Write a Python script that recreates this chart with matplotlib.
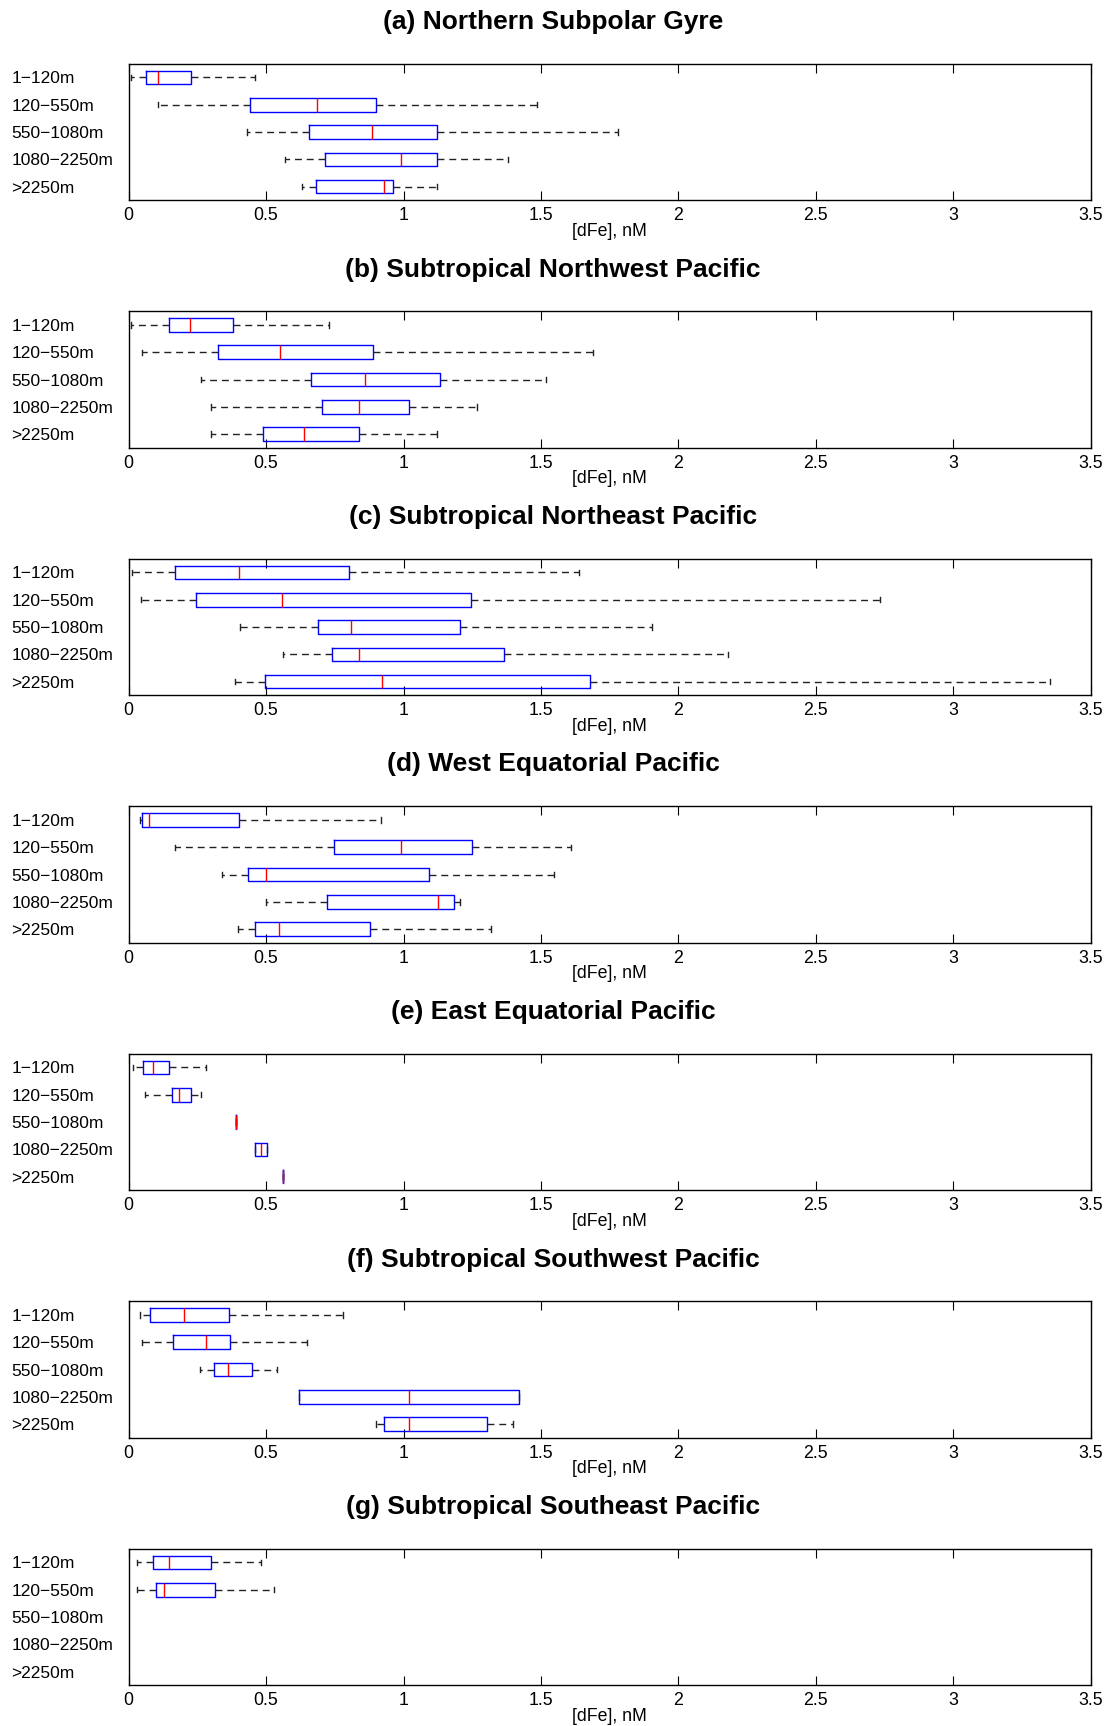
import matplotlib
matplotlib.use('Agg')
import matplotlib.pyplot as plt

plt.rcParams['font.family'] = ['Liberation Sans', 'DejaVu Sans']

depth_labels = ['1\u2212120m', '120\u2212550m', '550\u22121080m', '1080\u22122250m', '>2250m']
titles = ['(a) Northern Subpolar Gyre',
          '(b) Subtropical Northwest Pacific',
          '(c) Subtropical Northeast Pacific',
          '(d) West Equatorial Pacific',
          '(e) East Equatorial Pacific',
          '(f) Subtropical Southwest Pacific',
          '(g) Subtropical Southeast Pacific']

# each row: [whisker low, q1, median, q3, whisker high], one list per depth bin
nspg = [[0.008, 0.063, 0.106, 0.228, 0.46],
        [0.107, 0.44, 0.684, 0.90, 1.485],
        [0.43, 0.656, 0.887, 1.12, 1.78],
        [0.567, 0.713, 0.989, 1.12, 1.379],
        [0.63, 0.681, 0.928, 0.96, 1.12]]
stnwp = [[0.008, 0.145, 0.224, 0.379, 0.73],
         [0.05, 0.326, 0.55, 0.89, 1.688],
         [0.263, 0.662, 0.858, 1.131, 1.518],
         [0.298, 0.703, 0.838, 1.019, 1.269],
         [0.298, 0.489, 0.639, 0.838, 1.12]]
stnep = [[0.013, 0.167, 0.403, 0.803, 1.638],
         [0.044, 0.246, 0.556, 1.246, 2.733],
         [0.405, 0.687, 0.81, 1.205, 1.905],
         [0.562, 0.741, 0.838, 1.367, 2.18],
         [0.387, 0.495, 0.92, 1.677, 3.354]]
wep = [[0.042, 0.049, 0.075, 0.403, 0.919],
       [0.169, 0.748, 0.989, 1.25, 1.608],
       [0.341, 0.433, 0.498, 1.091, 1.546],
       [0.498, 0.72, 1.125, 1.185, 1.207],
       [0.397, 0.459, 0.546, 0.878, 1.319]]
eep = [[0.017, 0.051, 0.089, 0.147, 0.28],
       [0.058, 0.157, 0.184, 0.225, 0.264],
       [0.389, 0.389, 0.389, 0.389, 0.389],
       [0.459, 0.461, 0.48, 0.502, 0.502],
       [0.562, 0.562, 0.562, 0.562, 0.562]]
stswp = [[0.042, 0.078, 0.20, 0.366, 0.78],
         [0.05, 0.162, 0.281, 0.369, 0.65],
         [0.259, 0.309, 0.361, 0.447, 0.539],
         [0.618, 0.618, 1.019, 1.419, 1.419],
         [0.90, 0.929, 1.019, 1.304, 1.398]]
stsep = [[0.029, 0.089, 0.145, 0.298, 0.48],
         [0.029, 0.099, 0.13, 0.313, 0.529]]

regions = [nspg, stnwp, stnep, wep, eep, stswp, stsep]

W, H = 1106, 1726
fig = plt.figure(figsize=(W / 100, H / 100), dpi=100)

ax_left = 128.7 / W
ax_w = (1090.6 - 128.7) / W
ax_h = 136.5 / H
pitch = 247.5

for i, (title, rows) in enumerate(zip(titles, regions)):
    top = 63.8 + i * pitch
    ax = fig.add_axes([ax_left, 1 - (top + 136.5) / H, ax_w, ax_h])

    stats = [dict(whislo=r[0], q1=r[1], med=r[2], q3=r[3], whishi=r[4], fliers=[])
             for r in rows]
    ax.bxp(stats, positions=range(1, len(stats) + 1), widths=0.5,
           orientation='horizontal', showfliers=False, capwidths=0.2,
           boxprops=dict(color='blue', linewidth=1.0),
           medianprops=dict(color='red', linewidth=1.0),
           whiskerprops=dict(color='#222222', linewidth=1.0, linestyle=(0, (5, 3.5))),
           capprops=dict(color='#222222', linewidth=1.0))

    ax.set_ylim(5.5, 0.5)
    ax.set_yticks(range(1, 6))
    ax.set_yticklabels(depth_labels, fontsize=12.5, ha='left')
    ax.tick_params(axis='y', length=0, pad=84.5)

    ax.set_xlim(0, 3.5)
    ax.set_xticks([0, 0.5, 1, 1.5, 2, 2.5, 3, 3.5])
    ax.set_xticklabels(['0', '0.5', '1', '1.5', '2', '2.5', '3', '3.5'], fontsize=12.8)
    ax.tick_params(axis='x', direction='in', length=6.5, top=True, pad=5, width=0.8)
    ax.set_xlabel('[dFe], nM', fontsize=12.8, labelpad=-1)
    for s in ax.spines.values():
        s.set_linewidth(1.0)

    fig.text(0.5, 1 - (22 + i * pitch) / H, title, ha='center', va='center',
             fontsize=19, fontweight='bold')

fig.savefig('out.png', dpi=100)
